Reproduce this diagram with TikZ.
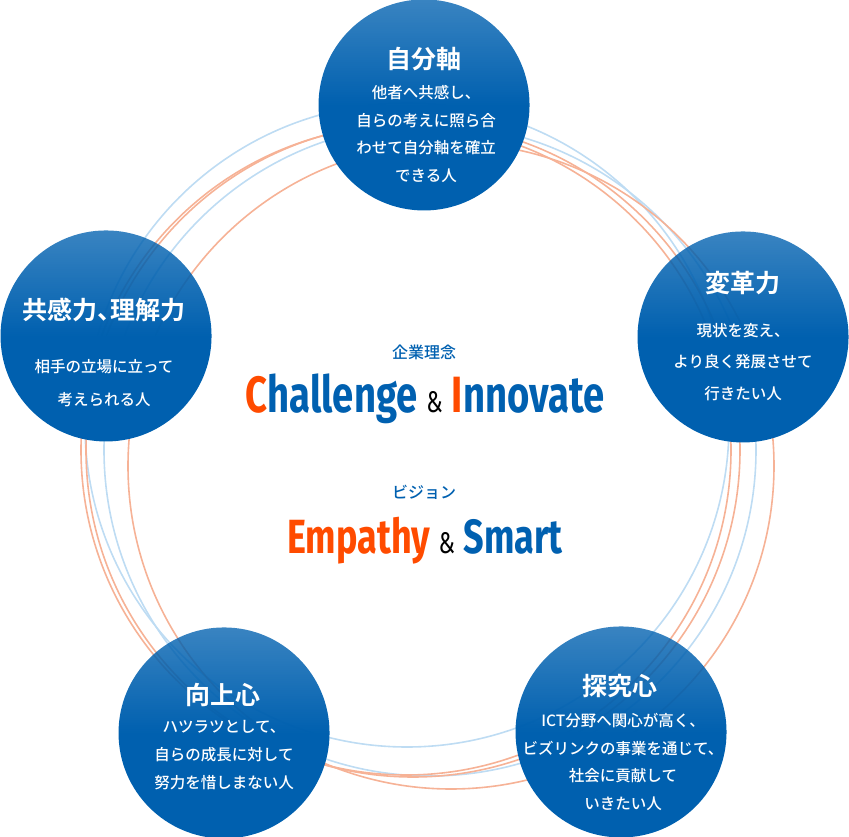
\documentclass[tikz,border=0pt]{standalone}
\usepackage{fontspec}
\usepackage{xcolor}
\usetikzlibrary{fadings}
\setmainfont{Noto Sans CJK JP}[BoldFont={Noto Sans CJK JP Bold}]
\newfontfamily\jpmed{Noto Sans CJK JP Medium}
\newfontfamily\condfont{Fira Sans}[FakeStretch=0.75]
\definecolor{bubbleblue}{RGB}{0,96,175}
\definecolor{ringblue}{RGB}{190,220,243}
\definecolor{ringorange}{RGB}{246,178,150}
\definecolor{accent}{RGB}{255,75,0}
\definecolor{textblue}{RGB}{0,96,176}
\pgfdeclareverticalshading{bubblemask}{100bp}{color(0bp)=(transparent!0); color(50bp)=(transparent!0); color(100bp)=(transparent!45)}
\pgfdeclarefading{bubblefade}{\pgfuseshading{bubblemask}}

\begin{document}
\begin{tikzpicture}[x=1pt,y=-1pt,
  ring/.style={line width=1.6pt},
  bubble/.style={circle,fill=bubbleblue,minimum size=211pt,inner sep=0pt,path fading=bubblefade},
  headtxt/.style={text=white,font=\bfseries\fontsize{25}{28}\selectfont},
  bodytxt/.style={text=white,align=center,font=\jpmed\fontsize{15.5}{#1}\selectfont},
  bodytxt/.default=27.7,
  smalltxt/.style={text=textblue,font=\jpmed\fontsize{16}{18}\selectfont},
  bigtxt/.style={text=textblue,anchor=base,font=\condfont\bfseries\fontsize{#1}{#1}\selectfont}]
\useasboundingbox (0,0) rectangle (849,837);
\draw[ring,ringblue] (407,425) circle[radius=322];
\draw[ring,ringblue] (430,450) circle[radius=326];
\draw[ring,ringorange] (406,450) circle[radius=325];
\draw[ring,ringorange] (413,450) circle[radius=327];
\draw[ring,ringorange] (451,466) circle[radius=323];
\node[bubble] (jibun) at (424,105) {};
\node[bubble] (kyokan) at (106,336) {};
\node[bubble] (henkaku) at (743,337) {};
\node[bubble] (kojo) at (224,733) {};
\node[bubble] (tankyu) at (621,732) {};
\node[headtxt] (jibun-head) at (424,59) {自分軸};
\node[bodytxt] (jibun-body) at (426,134) {他者へ共感し、\\自らの考えに照ら合\\わせて自分軸を確立\\できる人};
\node[headtxt] (kyokan-head) at (104,310) {共感力、\kern-0.45em 理解力};
\node[bodytxt=33] (kyokan-body) at (104,383) {相手の立場に立って\\考えられる人};
\node[headtxt] (henkaku-head) at (743,283) {変革力};
\node[bodytxt=31.5] (henkaku-body) at (743,362) {現状を変え、\\より良く発展させて\\行きたい人};
\node[headtxt] (kojo-head) at (223,695) {向上心};
\node[bodytxt] (kojo-body) at (224,755) {ハツラツとして、\\自らの成長に対して\\努力を惜しまない人};
\node[headtxt] (tankyu-head) at (620,686) {探究心};
\node[bodytxt] (tankyu-body) at (623,762) {ICT分野へ関心が高く、\\ビズリンクの事業を通じて、\\社会に貢献して\\いきたい人};
\node[smalltxt] (rinen) at (424,352) {企業理念};
\node[bigtxt=51] (rinen-text) at (425,412) {{\color{accent}C}hallenge {\color{black}\mdseries\fontsize{30}{30}\selectfont\&} {\color{accent}I}nnovate};
\node[smalltxt] (vision) at (424,492) {ビジョン};
\node[bigtxt=48] (vision-text) at (425,553) {{\color{accent}Empathy} {\color{black}\mdseries\fontsize{30}{30}\selectfont\&} Smart};
\end{tikzpicture}
\end{document}
